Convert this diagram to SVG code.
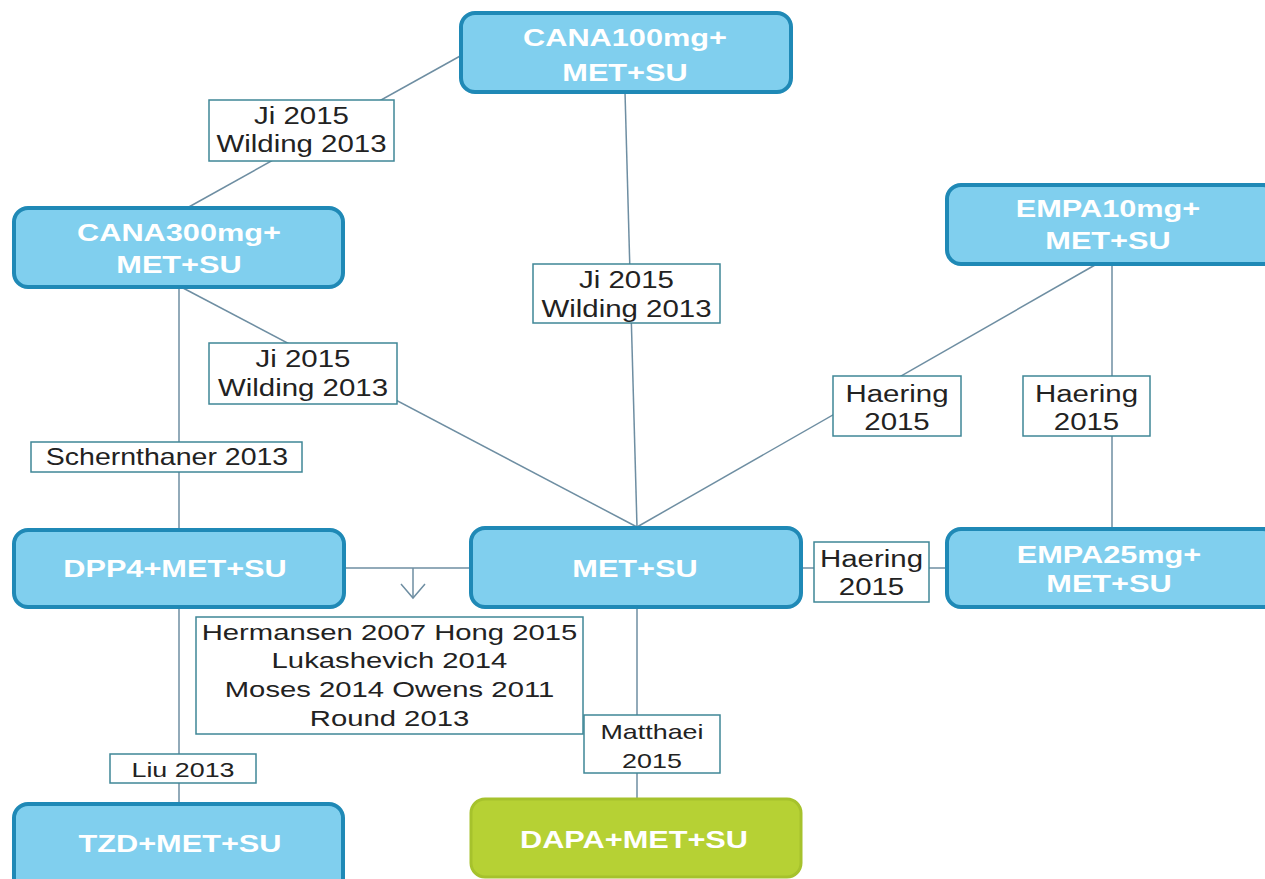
<svg xmlns="http://www.w3.org/2000/svg" width="1265" height="879" viewBox="0 0 1265 879">
<style>
.node{fill:#80cfee;stroke:#1f89b6;stroke-width:4}
.green{fill:#b6d134;stroke:#a6c22c;stroke-width:3}
.nt{font-family:"Liberation Sans",Arial,sans-serif;font-weight:bold;font-size:24px;fill:#ffffff;text-anchor:middle}
.lb{fill:#ffffff;stroke:#3f8797;stroke-width:1.5}
.lt{font-family:"Liberation Sans",Arial,sans-serif;font-size:23px;fill:#222222;text-anchor:middle}
.ln{stroke:#6e8ea2;stroke-width:1.5;fill:none}
</style>
<rect width="1265" height="879" fill="#ffffff"/>
<g id="connectors">
<line class="ln" x1="462" y1="55" x2="187" y2="208"/>
<line class="ln" x1="625" y1="92" x2="637" y2="527"/>
<line class="ln" x1="183" y1="288" x2="637" y2="527"/>
<line class="ln" x1="179" y1="288" x2="179" y2="530"/>
<line class="ln" x1="1095" y1="265" x2="637" y2="527"/>
<line class="ln" x1="1112" y1="265" x2="1112" y2="528"/>
<line class="ln" x1="801" y1="568" x2="947" y2="568"/>
<line class="ln" x1="344" y1="568" x2="470" y2="568"/>
<line class="ln" x1="413" y1="568" x2="413" y2="598"/>
<polyline class="ln" points="401,584 413,598 425,584"/>
<line class="ln" x1="179" y1="607" x2="179" y2="803"/>
<line class="ln" x1="637" y1="608" x2="637" y2="798"/>
</g>
<g id="label-ji-top"><rect class="lb" x="209" y="100" width="185" height="61"/>
<text class="lt" transform="translate(301.5,124) scale(1.28,1)">Ji 2015</text>
<text class="lt" transform="translate(301.5,152) scale(1.28,1)">Wilding 2013</text></g>
<g id="label-ji-mid"><rect class="lb" x="533" y="264" width="187" height="59"/>
<text class="lt" transform="translate(626.5,288) scale(1.28,1)">Ji 2015</text>
<text class="lt" transform="translate(626.5,317) scale(1.28,1)">Wilding 2013</text></g>
<g id="label-ji-low"><rect class="lb" x="209" y="343" width="188" height="61"/>
<text class="lt" transform="translate(303,367) scale(1.28,1)">Ji 2015</text>
<text class="lt" transform="translate(303,396) scale(1.28,1)">Wilding 2013</text></g>
<g id="label-schern"><rect class="lb" x="31" y="442" width="271" height="30"/>
<text class="lt" transform="translate(167,465) scale(1.24,1)">Schernthaner 2013</text></g>
<g id="label-haering1"><rect class="lb" x="833" y="376" width="128" height="60"/>
<text class="lt" transform="translate(897,402) scale(1.28,1)">Haering</text>
<text class="lt" transform="translate(897,430) scale(1.28,1)">2015</text></g>
<g id="label-haering2"><rect class="lb" x="1023" y="376" width="127" height="60"/>
<text class="lt" transform="translate(1086.5,402) scale(1.28,1)">Haering</text>
<text class="lt" transform="translate(1086.5,430) scale(1.28,1)">2015</text></g>
<g id="label-haering3"><rect class="lb" x="814" y="542" width="115" height="60"/>
<text class="lt" transform="translate(871.5,567) scale(1.28,1)">Haering</text>
<text class="lt" transform="translate(871.5,595) scale(1.28,1)">2015</text></g>
<g id="label-hermansen"><rect class="lb" x="196" y="617" width="387" height="117"/>
<text class="lt" transform="translate(389.5,640) scale(1.33,1)" style="font-size:22px">Hermansen 2007 Hong 2015</text>
<text class="lt" transform="translate(389.5,668) scale(1.33,1)" style="font-size:22px">Lukashevich 2014</text>
<text class="lt" transform="translate(389.5,697) scale(1.33,1)" style="font-size:22px">Moses 2014 Owens 2011</text>
<text class="lt" transform="translate(389.5,726) scale(1.33,1)" style="font-size:22px">Round 2013</text></g>
<g id="label-liu"><rect class="lb" x="110" y="754" width="146" height="29"/>
<text class="lt" transform="translate(183,777) scale(1.28,1)" style="font-size:21px">Liu 2013</text></g>
<g id="label-matthaei"><rect class="lb" x="584" y="715" width="136" height="58"/>
<text class="lt" transform="translate(652,739) scale(1.28,1)" style="font-size:21px">Matthaei</text>
<text class="lt" transform="translate(652,768) scale(1.28,1)" style="font-size:21px">2015</text></g>
<g id="node-cana100"><rect class="node" x="461" y="13" width="330" height="79" rx="14"/>
<text class="nt" transform="translate(625,46) scale(1.28,1)">CANA100mg+</text>
<text class="nt" transform="translate(625,81) scale(1.28,1)">MET+SU</text></g>
<g id="node-cana300"><rect class="node" x="14" y="208" width="329" height="79" rx="14"/>
<text class="nt" transform="translate(179,241) scale(1.28,1)">CANA300mg+</text>
<text class="nt" transform="translate(179,273) scale(1.28,1)">MET+SU</text></g>
<g id="node-empa10"><rect class="node" x="947" y="185" width="330" height="79" rx="14"/>
<text class="nt" transform="translate(1108,217) scale(1.28,1)">EMPA10mg+</text>
<text class="nt" transform="translate(1108,249) scale(1.28,1)">MET+SU</text></g>
<g id="node-dpp4"><rect class="node" x="14" y="530" width="330" height="77" rx="14"/>
<text class="nt" transform="translate(175,577) scale(1.28,1)">DPP4+MET+SU</text></g>
<g id="node-metsu"><rect class="node" x="471" y="528" width="330" height="79" rx="14"/>
<text class="nt" transform="translate(635,577) scale(1.28,1)">MET+SU</text></g>
<g id="node-empa25"><rect class="node" x="947" y="529" width="330" height="78" rx="14"/>
<text class="nt" transform="translate(1109,563) scale(1.28,1)">EMPA25mg+</text>
<text class="nt" transform="translate(1109,592) scale(1.28,1)">MET+SU</text></g>
<g id="node-tzd"><rect class="node" x="14" y="804" width="329" height="90" rx="14"/>
<text class="nt" transform="translate(180,852) scale(1.28,1)">TZD+MET+SU</text></g>
<g id="node-dapa"><rect class="green" x="471" y="799" width="330" height="78" rx="14"/>
<text class="nt" transform="translate(634,848) scale(1.28,1)">DAPA+MET+SU</text></g>
</svg>
